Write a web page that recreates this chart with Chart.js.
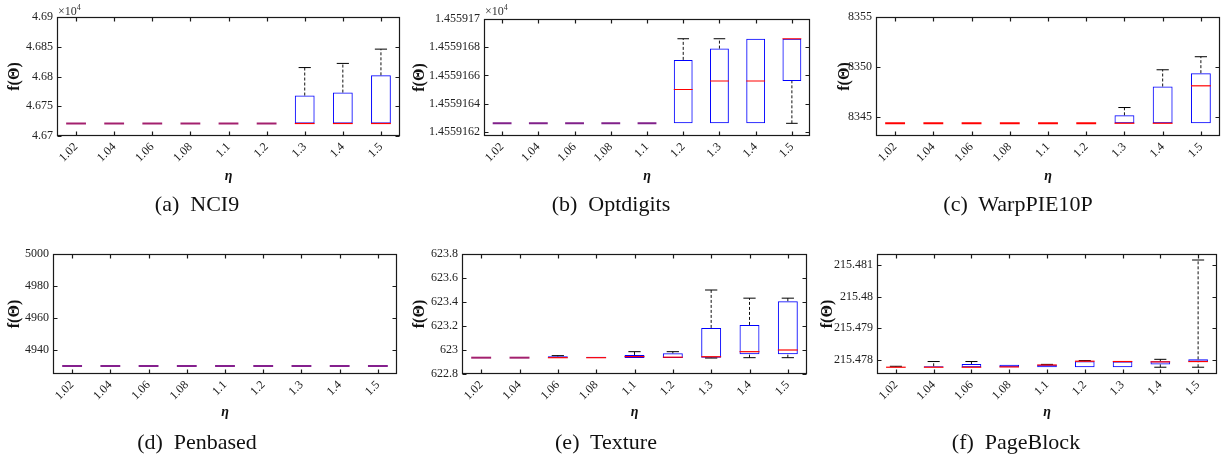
<!DOCTYPE html>
<html lang="en">
<head>
<meta charset="UTF-8">
<title>f(Θ) against η</title>
<script src="https://cdn.jsdelivr.net/npm/chart.js"></script>
<style>
  body { margin: 0; background: #fff; }
  #fig { position: relative; width: 1224px; height: 460px; overflow: hidden; }
  .panel { position: absolute; height: 230px; }
  .caption {
    position: absolute; width: 300px; text-align: center;
    font-family: 'Liberation Serif', serif; font-size: 22px; line-height: 24px;
    color: #111; white-space: pre;
  }
  .mult { position: absolute; font-family: 'Liberation Serif', serif; font-size: 12px; color: #333; line-height: 14px; }
  .mult sup { font-size: 8px; }
</style>
</head>
<body>
<div id="fig"></div>

<script>
const etaLabels = ['1.02', '1.04', '1.06', '1.08', '1.1', '1.2', '1.3', '1.4', '1.5'];

// (a) NCI9, values in units of 10^4
const nci9Lo  = [4.6721, 4.6721, 4.6721, 4.6721, 4.6721, 4.6721, 4.6721, 4.6721, 4.6721];
const nci9Q1  = [4.6721, 4.6721, 4.6721, 4.6721, 4.6721, 4.6721, 4.6721, 4.6721, 4.6721];
const nci9Med = [4.6721, 4.6721, 4.6721, 4.6721, 4.6721, 4.6721, 4.6721, 4.6721, 4.6721];
const nci9Q3  = [4.6721, 4.6721, 4.6721, 4.6721, 4.6721, 4.6721, 4.6768, 4.6773, 4.6802];
const nci9Hi  = [4.6721, 4.6721, 4.6721, 4.6721, 4.6721, 4.6721, 4.6815, 4.6822, 4.6846];
const nci9Ticks = [4.67, 4.675, 4.68, 4.685, 4.69];
const nci9TickText = ['4.67', '4.675', '4.68', '4.685', '4.69'];

// (b) Optdigits, values in units of 10^4
const optLo  = [1.45591626, 1.45591626, 1.45591626, 1.45591626, 1.45591626, 1.45591626, 1.45591626, 1.45591626, 1.45591626];
const optQ1  = [1.45591626, 1.45591626, 1.45591626, 1.45591626, 1.45591626, 1.45591626, 1.45591626, 1.45591626, 1.45591656];
const optMed = [1.45591626, 1.45591626, 1.45591626, 1.45591626, 1.45591626, 1.4559165, 1.45591656, 1.45591656, 1.45591686];
const optQ3  = [1.45591626, 1.45591626, 1.45591626, 1.45591626, 1.45591626, 1.45591671, 1.45591679, 1.45591686, 1.45591686];
const optHi  = [1.45591626, 1.45591626, 1.45591626, 1.45591626, 1.45591626, 1.45591686, 1.45591686, 1.45591686, 1.45591686];
const optTicks = [1.4559162, 1.4559164, 1.4559166, 1.4559168, 1.455917];
const optTickText = ['1.4559162', '1.4559164', '1.4559166', '1.4559168', '1.455917'];

// (c) WarpPIE10P
const warpLo  = [8344.33, 8344.33, 8344.33, 8344.33, 8344.33, 8344.33, 8344.33, 8344.33, 8344.33];
const warpQ1  = [8344.33, 8344.33, 8344.33, 8344.33, 8344.33, 8344.33, 8344.33, 8344.33, 8344.33];
const warpMed = [8344.33, 8344.33, 8344.33, 8344.33, 8344.33, 8344.33, 8344.33, 8344.33, 8348.09];
const warpQ3  = [8344.33, 8344.33, 8344.33, 8344.33, 8344.33, 8344.33, 8345.13, 8348.02, 8349.36];
const warpHi  = [8344.33, 8344.33, 8344.33, 8344.33, 8344.33, 8344.33, 8345.91, 8349.7, 8351.01];
const warpTicks = [8345, 8350, 8355];
const warpTickText = ['8345', '8350', '8355'];

// (d) Penbased
const penLo  = [4930.2, 4930.2, 4930.2, 4930.2, 4930.2, 4930.2, 4930.2, 4930.2, 4930.2];
const penQ1  = [4930.2, 4930.2, 4930.2, 4930.2, 4930.2, 4930.2, 4930.2, 4930.2, 4930.2];
const penMed = [4930.2, 4930.2, 4930.2, 4930.2, 4930.2, 4930.2, 4930.2, 4930.2, 4930.2];
const penQ3  = [4930.2, 4930.2, 4930.2, 4930.2, 4930.2, 4930.2, 4930.2, 4930.2, 4930.2];
const penHi  = [4930.2, 4930.2, 4930.2, 4930.2, 4930.2, 4930.2, 4930.2, 4930.2, 4930.2];
const penTicks = [4940, 4960, 4980, 5000];
const penTickText = ['4940', '4960', '4980', '5000'];

// (e) Texture
const texLo  = [622.936, 622.936, 622.936, 622.936, 622.933, 622.933, 622.933, 622.936, 622.936];
const texQ1  = [622.936, 622.936, 622.936, 622.936, 622.933, 622.933, 622.936, 622.964, 622.964];
const texMed = [622.936, 622.936, 622.936, 622.936, 622.945, 622.94, 622.944, 622.986, 623.0];
const texQ3  = [622.936, 622.936, 622.947, 622.944, 622.958, 622.972, 623.184, 623.209, 623.407];
const texHi  = [622.936, 622.936, 622.953, 622.944, 622.986, 622.986, 623.5, 623.432, 623.432];
const texTicks = [622.8, 623, 623.2, 623.4, 623.6, 623.8];
const texTickText = ['622.8', '623', '623.2', '623.4', '623.6', '623.8'];

// (f) PageBlock
const pageLo  = [215.47777, 215.47777, 215.47777, 215.47777, 215.47777, 215.47777, 215.47777, 215.47777, 215.47777];
const pageQ1  = [215.47777, 215.47777, 215.47777, 215.47777, 215.47777, 215.47777, 215.47777, 215.47786, 215.47794];
const pageMed = [215.47777, 215.47777, 215.47777, 215.47778, 215.47784, 215.47796, 215.47795, 215.47794, 215.47795];
const pageQ3  = [215.47778, 215.4778, 215.47787, 215.47785, 215.47785, 215.47796, 215.47795, 215.47796, 215.47802];
const pageHi  = [215.4778, 215.47795, 215.47795, 215.47785, 215.47786, 215.47798, 215.47795, 215.47802, 215.48116];
const pageTicks = [215.478, 215.479, 215.48, 215.481];
const pageTickText = ['215.478', '215.479', '215.48', '215.481'];

const panels = [
  { tag: '(a)  NCI9', left: 0, top: 0, width: 405, yw: 57, padTop: 17, padRight: 5, padBottom: 42, titlePad: 6, etaPad: 3,
    min: 4.67, max: 4.69, lo: nci9Lo, q1: nci9Q1, med: nci9Med, q3: nci9Q3, hi: nci9Hi,
    ticks: nci9Ticks, tickText: nci9TickText, flat: '#a3206e', mult: true, capX: 197 },
  { tag: '(b)  Optdigits', left: 405, top: 0, width: 410, yw: 79, padTop: 19, padRight: 5, padBottom: 42, titlePad: 6, etaPad: 3,
    min: 1.45591617, max: 1.455917, lo: optLo, q1: optQ1, med: optMed, q3: optQ3, hi: optHi,
    ticks: optTicks, tickText: optTickText, flat: '#80208a', mult: true, capX: 611 },
  { tag: '(c)  WarpPIE10P', left: 815, top: 0, width: 409, yw: 61, padTop: 17, padRight: 4, padBottom: 42, titlePad: 21, etaPad: 3,
    min: 8343.05, max: 8355, lo: warpLo, q1: warpQ1, med: warpMed, q3: warpQ3, hi: warpHi,
    ticks: warpTicks, tickText: warpTickText, flat: '#ff0000', mult: false, capX: 1018 },
  { tag: '(d)  Penbased', left: 0, top: 230, width: 405, yw: 53, padTop: 24, padRight: 8, padBottom: 34, titlePad: 6, etaPad: 5,
    min: 4925.2, max: 5000, lo: penLo, q1: penQ1, med: penMed, q3: penQ3, hi: penHi,
    ticks: penTicks, tickText: penTickText, flat: '#85208e', mult: false, capX: 197 },
  { tag: '(e)  Texture', left: 405, top: 230, width: 410, yw: 57, padTop: 24, padRight: 8, padBottom: 34, titlePad: 6, etaPad: 5,
    min: 622.8, max: 623.8, lo: texLo, q1: texQ1, med: texMed, q3: texQ3, hi: texHi,
    ticks: texTicks, tickText: texTickText, flat: '#a3206e', mult: false, capX: 606 },
  { tag: '(f)  PageBlock', left: 815, top: 230, width: 409, yw: 62, padTop: 24, padRight: 7, padBottom: 34, titlePad: 4, etaPad: 5,
    min: 215.477556, max: 215.48135, lo: pageLo, q1: pageQ1, med: pageMed, q3: pageQ3, hi: pageHi,
    ticks: pageTicks, tickText: pageTickText, flat: '#ff0000', mult: false, capX: 1016 }
];

const tickFont = { family: 'Liberation Serif', size: 12 };

// frame with inward ticks on all four sides, like the original figure
const framePlugin = {
  id: 'frame',
  afterDatasetsDraw(chart) {
    const { ctx, chartArea: a, scales: { x, y } } = chart;
    const L = Math.round(a.left) + 0.5, R = Math.round(a.right) - 0.5;
    const T = Math.round(a.top) + 0.5, B = Math.round(a.bottom) - 0.5;
    ctx.save();
    ctx.strokeStyle = '#1a1a1a';
    ctx.lineWidth = 1.2;
    ctx.strokeRect(L, T, R - L, B - T);
    ctx.beginPath();
    y.ticks.forEach(t => {
      const py = Math.round(y.getPixelForValue(t.value)) + 0.5;
      ctx.moveTo(L, py); ctx.lineTo(L + 4, py);
      ctx.moveTo(R, py); ctx.lineTo(R - 4, py);
    });
    x.ticks.forEach((t, i) => {
      const px = Math.round(x.getPixelForTick(i)) + 0.5;
      ctx.moveTo(px, B); ctx.lineTo(px, B - 4);
      ctx.moveTo(px, T); ctx.lineTo(px, T + 4);
    });
    ctx.stroke();
    ctx.restore();
  }
};

const fig = document.getElementById('fig');
const slot = chart => chart.scales.x.width / etaLabels.length;

panels.forEach(p => {
  const box = document.createElement('div');
  box.className = 'panel';
  box.style.left = p.left + 'px';
  box.style.top = p.top + 'px';
  box.style.width = p.width + 'px';
  const cv = document.createElement('canvas');
  cv.width = p.width;
  cv.height = 230;
  box.appendChild(cv);
  fig.appendChild(box);

  const cap = document.createElement('div');
  cap.className = 'caption';
  cap.textContent = p.tag;
  cap.style.left = (p.capX - 150) + 'px';
  cap.style.top = (p.top + (p.top ? 200 : 192)) + 'px';
  fig.appendChild(cap);

  if (p.mult) {
    const m = document.createElement('div');
    m.className = 'mult';
    m.innerHTML = '×10<sup>4</sup>';
    m.style.left = (p.left + p.yw + 1) + 'px';
    m.style.top = '1px';
    fig.appendChild(m);
  }

  const medians = p.med.map((v, i) => ({ x: etaLabels[i], y: v }));
  const flat = p.q1.map((v, i) => v === p.q3[i]);
  const caps = [];
  const whiskers = [];
  etaLabels.forEach((c, i) => {
    if (p.hi[i] > p.q3[i]) {
      caps.push({ x: c, y: p.hi[i] });
      whiskers.push({ x: c, y: p.q3[i] }, { x: c, y: p.hi[i] }, { x: c, y: null });
    }
    if (p.lo[i] < p.q1[i]) {
      caps.push({ x: c, y: p.lo[i] });
      whiskers.push({ x: c, y: p.lo[i] }, { x: c, y: p.q1[i] }, { x: c, y: null });
    }
  });

  new Chart(cv, {
    type: 'bar',
    data: {
      labels: etaLabels,
      datasets: [
        {
          type: 'line', label: 'median', data: medians, showLine: false, order: 0,
          pointStyle: 'line',
          pointRadius: ctx => slot(ctx.chart) * 0.26,
          pointBorderColor: flat.map(f => f ? p.flat : '#ff0000'),
          pointBorderWidth: flat.map(f => f ? 2 : 1.2)
        },
        {
          type: 'line', label: 'caps', data: caps, showLine: false, order: 1,
          pointStyle: 'line',
          pointRadius: ctx => slot(ctx.chart) * 0.16,
          pointBorderColor: '#000', pointBorderWidth: 1
        },
        {
          type: 'line', label: 'whiskers', data: whiskers, order: 2,
          borderColor: '#111', borderWidth: 1, borderDash: [3, 2],
          pointRadius: 0, spanGaps: false
        },
        {
          type: 'bar', label: 'box', order: 3,
          data: p.q1.map((v, i) => [v, p.q3[i]]),
          backgroundColor: 'rgba(255,255,255,0)',
          borderColor: '#0000ff', borderWidth: 1, borderSkipped: false,
          barPercentage: 0.52, categoryPercentage: 1
        }
      ]
    },
    options: {
      responsive: false,
      animation: false,
      layout: { padding: { top: p.padTop, right: p.padRight, bottom: p.padBottom, left: 0 } },
      plugins: { legend: { display: false }, tooltip: { enabled: false } },
      scales: {
        x: {
          offset: true,
          grid: { display: false, drawTicks: false },
          border: { display: false },
          ticks: { autoSkip: false, maxRotation: 45, minRotation: 45, padding: 4, color: '#222', font: tickFont },
          title: {
            display: true, text: 'η', color: '#111',
            font: { family: 'Liberation Serif', size: 14, weight: 'bold', style: 'italic' },
            padding: { top: 0, bottom: p.etaPad }
          },
          afterFit: s => { s.height = 52; }
        },
        y: {
          min: p.min, max: p.max,
          grid: { display: false, drawTicks: false },
          border: { display: false },
          afterBuildTicks: s => { s.ticks = p.ticks.map(v => ({ value: v })); },
          ticks: { padding: 4, color: '#222', font: tickFont, callback: (v, i) => p.tickText[i] },
          title: {
            display: true, text: 'f(Θ)', color: '#111',
            font: { family: 'Liberation Serif', size: 16, weight: 'bold' },
            padding: { top: p.titlePad - 1, bottom: 0 }
          },
          afterFit: s => { s.width = p.yw; }
        }
      }
    },
    plugins: [framePlugin]
  });
});
</script>
</body>
</html>
